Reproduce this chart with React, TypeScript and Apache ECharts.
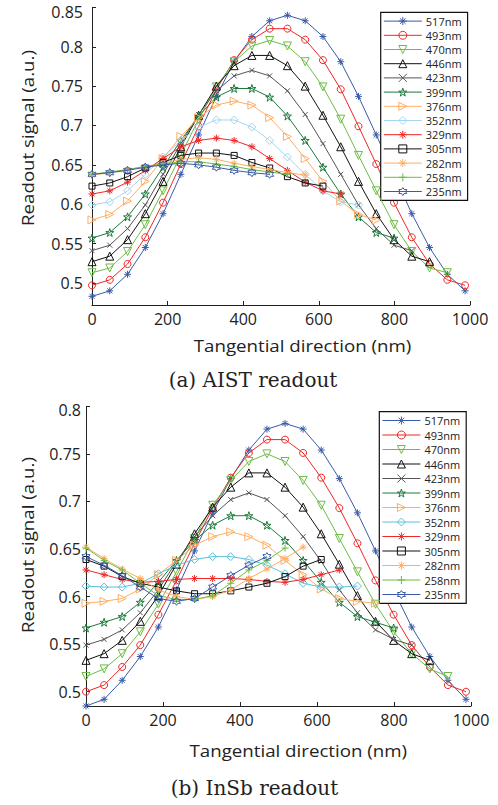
import React, { useEffect, useRef } from "react";
import * as echarts from "echarts";

// ---------- data ----------
const xPositions = [0, 47, 94, 141, 188, 235, 282, 329, 376, 423, 470, 517, 564, 611, 658, 705, 752, 799, 846, 893, 940, 987];
const wavelengths = ["517nm", "493nm", "470nm", "446nm", "423nm", "399nm", "376nm", "352nm", "329nm", "305nm", "282nm", "258nm", "235nm"];
const xTicks = [0, 200, 400, 600, 800, 1000];
const yTicksA = [0.5, 0.55, 0.6, 0.65, 0.7, 0.75, 0.8, 0.85];
const yTicksB = [0.5, 0.55, 0.6, 0.65, 0.7, 0.75, 0.8];

// (a) AIST readout
const aist517 = [0.483, 0.490, 0.511, 0.545, 0.588, 0.638, 0.688, 0.737, 0.781, 0.813, 0.833, 0.840, 0.833, 0.813, 0.781, 0.737, 0.688, 0.638, 0.588, 0.545, 0.511, 0.490];
const aist493 = [0.497, 0.504, 0.524, 0.558, 0.602, 0.651, 0.699, 0.746, 0.783, 0.809, 0.823, 0.823, 0.809, 0.783, 0.746, 0.699, 0.651, 0.602, 0.558, 0.524, 0.504, 0.497];
const aist470 = [0.513, 0.519, 0.540, 0.574, 0.617, 0.662, 0.708, 0.749, 0.781, 0.801, 0.808, 0.801, 0.781, 0.749, 0.708, 0.662, 0.617, 0.574, 0.540, 0.519, 0.513];
const aist446 = [0.527, 0.534, 0.555, 0.588, 0.629, 0.673, 0.713, 0.750, 0.776, 0.789, 0.789, 0.776, 0.750, 0.713, 0.673, 0.629, 0.588, 0.555, 0.534, 0.527];
const aist423 = [0.541, 0.548, 0.569, 0.599, 0.638, 0.677, 0.714, 0.744, 0.763, 0.770, 0.763, 0.744, 0.714, 0.677, 0.638, 0.599, 0.569, 0.548, 0.541];
const aist399 = [0.557, 0.564, 0.584, 0.613, 0.647, 0.681, 0.712, 0.736, 0.747, 0.747, 0.736, 0.712, 0.681, 0.647, 0.613, 0.584, 0.564, 0.557];
const aist376 = [0.580, 0.587, 0.604, 0.629, 0.658, 0.686, 0.710, 0.726, 0.731, 0.726, 0.710, 0.686, 0.658, 0.629, 0.604, 0.587, 0.580];
const aist352 = [0.599, 0.603, 0.617, 0.638, 0.660, 0.681, 0.698, 0.707, 0.707, 0.698, 0.681, 0.660, 0.638, 0.617, 0.603, 0.599];
const aist329 = [0.613, 0.617, 0.628, 0.643, 0.658, 0.673, 0.681, 0.684, 0.681, 0.673, 0.658, 0.643, 0.628, 0.617, 0.613];
const aist305 = [0.623, 0.627, 0.635, 0.646, 0.653, 0.662, 0.665, 0.665, 0.662, 0.653, 0.646, 0.635, 0.627, 0.623];
const aist282 = [0.637, 0.640, 0.644, 0.648, 0.652, 0.657, 0.659, 0.657, 0.652, 0.648, 0.644, 0.640, 0.637];
const aist258 = [0.638, 0.641, 0.644, 0.648, 0.651, 0.654, 0.654, 0.651, 0.648, 0.644, 0.641, 0.638];
const aist235 = [0.638, 0.640, 0.643, 0.647, 0.650, 0.652, 0.650, 0.647, 0.643, 0.640, 0.638];

// (b) InSb readout
const insb517 = [0.485, 0.492, 0.512, 0.537, 0.568, 0.607, 0.648, 0.688, 0.724, 0.754, 0.776, 0.782, 0.776, 0.754, 0.724, 0.688, 0.648, 0.607, 0.568, 0.537, 0.512, 0.492];
const insb493 = [0.500, 0.507, 0.526, 0.549, 0.581, 0.617, 0.656, 0.693, 0.725, 0.751, 0.765, 0.765, 0.751, 0.725, 0.693, 0.656, 0.617, 0.581, 0.549, 0.526, 0.507, 0.500];
const insb470 = [0.516, 0.524, 0.540, 0.563, 0.592, 0.626, 0.661, 0.696, 0.722, 0.742, 0.750, 0.742, 0.722, 0.696, 0.661, 0.626, 0.592, 0.563, 0.540, 0.524, 0.516];
const insb446 = [0.533, 0.540, 0.554, 0.574, 0.601, 0.634, 0.666, 0.694, 0.715, 0.730, 0.730, 0.715, 0.694, 0.666, 0.634, 0.601, 0.574, 0.554, 0.540, 0.533];
const insb423 = [0.549, 0.555, 0.565, 0.583, 0.607, 0.637, 0.663, 0.685, 0.702, 0.709, 0.702, 0.685, 0.663, 0.637, 0.607, 0.583, 0.565, 0.555, 0.549];
const insb399 = [0.567, 0.573, 0.579, 0.594, 0.615, 0.638, 0.659, 0.675, 0.685, 0.685, 0.675, 0.659, 0.638, 0.615, 0.594, 0.579, 0.573, 0.567];
const insb376 = [0.593, 0.595, 0.598, 0.608, 0.623, 0.638, 0.654, 0.663, 0.668, 0.663, 0.654, 0.638, 0.623, 0.608, 0.598, 0.595, 0.593];
const insb352 = [0.611, 0.610, 0.610, 0.614, 0.624, 0.633, 0.639, 0.642, 0.642, 0.639, 0.633, 0.624, 0.614, 0.610, 0.610, 0.611];
const insb329 = [0.628, 0.623, 0.618, 0.615, 0.616, 0.618, 0.619, 0.619, 0.619, 0.618, 0.616, 0.615, 0.618, 0.623, 0.628];
const insb305 = [0.639, 0.632, 0.621, 0.614, 0.610, 0.606, 0.603, 0.603, 0.606, 0.610, 0.614, 0.621, 0.632, 0.639];
const insb282 = [0.652, 0.640, 0.629, 0.619, 0.607, 0.600, 0.597, 0.600, 0.607, 0.619, 0.629, 0.640, 0.652];
const insb258 = [0.651, 0.638, 0.628, 0.614, 0.601, 0.597, 0.597, 0.601, 0.614, 0.628, 0.638, 0.651];
const insb235 = [0.642, 0.633, 0.622, 0.610, 0.598, 0.595, 0.598, 0.610, 0.622, 0.633, 0.642];

const aistSeries = [aist517, aist493, aist470, aist446, aist423, aist399, aist376, aist352, aist329, aist305, aist282, aist258, aist235];
const insbSeries = [insb517, insb493, insb470, insb446, insb423, insb399, insb376, insb352, insb329, insb305, insb282, insb258, insb235];

// ---------- styles ----------
const FONT = '"Open Sans", sans-serif';
const TXT = "#222";
const BLUE = "#3a5ba9";
const RED = "#ee2727";
const GREEN = "#6cbd44";
const ORANGE = "#ffad62";
const CLEAR = "rgba(255,255,255,0)";
const SYM = {
  asterisk: "path://M5,0L5,10M0,5L10,5M1.46,1.46L8.54,8.54M8.54,1.46L1.46,8.54",
  cross: "path://M0,0L10,10M10,0L0,10",
  plus: "path://M5,0L5,10M0,5L10,5",
  pentagram: "path://M50,0L61.23,34.55L97.55,34.55L68.16,55.9L79.39,90.45L50,69.1L20.61,90.45L31.84,55.9L2.45,34.55L38.77,34.55Z",
  hexagram: "path://M50,0L64.43,25L93.3,25L78.87,50L93.3,75L64.43,75L50,100L35.57,75L6.7,75L21.13,50L6.7,25L35.57,25Z",
};
type Sty = { color: string; symbol: string; size: number; rotate?: number };
const stylesFor = (lightBlue: string): Sty[] => [
  { color: BLUE, symbol: SYM.asterisk, size: 7 },
  { color: RED, symbol: "circle", size: 7 },
  { color: GREEN, symbol: "triangle", size: 8, rotate: 180 },
  { color: "#111", symbol: "triangle", size: 8 },
  { color: "#555", symbol: SYM.cross, size: 5 },
  { color: "#1c7a3c", symbol: SYM.pentagram, size: 8 },
  { color: ORANGE, symbol: "triangle", size: 8, rotate: -90 },
  { color: lightBlue, symbol: "diamond", size: 8 },
  { color: RED, symbol: SYM.asterisk, size: 7 },
  { color: "#111", symbol: "rect", size: 6 },
  { color: ORANGE, symbol: SYM.asterisk, size: 7 },
  { color: GREEN, symbol: SYM.plus, size: 7 },
  { color: BLUE, symbol: SYM.hexagram, size: 8 },
];
const stylesA = stylesFor("#a6d5f0");
const stylesB = stylesFor("#5cc0dc");

const fmt = (v: number) => String(parseFloat(Number(v).toFixed(2)));

function buildSeries(sets: number[][], styles: Sty[], idx: number, prefix: string) {
  return sets.map((vals, k) => ({
    type: "line",
    name: prefix + wavelengths[k],
    xAxisIndex: idx,
    yAxisIndex: idx,
    data: vals.map((v, i) => [xPositions[i], v]),
    symbol: styles[k].symbol,
    symbolSize: styles[k].size,
    symbolRotate: styles[k].rotate || 0,
    showAllSymbol: true,
    lineStyle: { color: styles[k].color, width: 1 },
    itemStyle: { color: "none", borderColor: styles[k].color, borderWidth: 1 },
    emphasis: { disabled: true },
    z: 2 + k,
  }));
}

function xAxis(idx: number) {
  return {
    type: "value",
    gridIndex: idx,
    min: 0,
    max: 1000,
    interval: 200,
    axisLine: { show: true, lineStyle: { color: TXT, width: 1 } },
    axisTick: { show: true, inside: true, length: 4, lineStyle: { color: TXT } },
    axisLabel: { color: TXT, fontSize: 16, fontFamily: FONT, margin: 6, customValues: xTicks, formatter: (v: number) => String(v) },
    splitLine: { show: false },
  };
}
function yAxis(idx: number, min: number, max: number, ticks: number[], margin: number, topPad: number) {
  return {
    type: "value",
    gridIndex: idx,
    min,
    max,
    axisLine: { show: true, lineStyle: { color: TXT, width: 1 } },
    axisTick: { show: true, inside: true, length: 4, lineStyle: { color: TXT }, customValues: ticks },
    axisLabel: {
      color: TXT,
      fontSize: 16,
      fontFamily: FONT,
      margin,
      customValues: ticks,
      showMinLabel: true,
      showMaxLabel: true,
      formatter: (v: number) => (Math.abs(v - max) < 1e-6 ? `{top|${fmt(v)}}` : fmt(v)),
      rich: { top: { color: TXT, fontSize: 16, fontFamily: FONT, padding: [topPad, 0, 0, 0] } },
    },
    splitLine: { show: false },
  };
}
function legend(left: number, top: number, gap: number, pad: number, prefix: string, styles: Sty[]) {
  return {
    orient: "vertical",
    left,
    top,
    data: wavelengths.map((w, k) => ({
      name: prefix + w,
      itemStyle: { color: CLEAR, borderColor: styles[k].color, borderWidth: 1 },
      lineStyle: { color: styles[k].color, width: 1 },
    })),
    formatter: (n: string) => n.replace(prefix, ""),
    itemWidth: 38,
    itemHeight: 10,
    itemGap: gap,
    padding: [pad, 6, pad, 2.6],
    borderColor: "#111",
    borderWidth: 1.2,
    backgroundColor: "#fff",
    selectedMode: false,
    textStyle: { color: TXT, fontSize: 11, fontFamily: FONT, padding: [0, 0, 0, -1] },
  };
}
const text = (t: string, x: number, y: number, size: number, family: string, rotate = 0, sx = 1) => ({
  type: "text",
  x,
  y,
  rotation: rotate,
  scaleX: sx,
  style: { text: t, fill: TXT, font: `${size}px ${family}`, align: "center", verticalAlign: "middle" },
});

const option = {
  animation: false,
  backgroundColor: "#fff",
  grid: [
    { left: 92, top: 7.4, width: 378, height: 297.6 },
    { left: 86, top: 406.3, width: 385, height: 299.7 },
  ],
  xAxis: [xAxis(0), xAxis(1)],
  yAxis: [yAxis(0, 0.472, 0.85, yTicksA, 9, 10), yAxis(1, 0.485, 0.8, yTicksB, 5, 8)],
  legend: [legend(380.7, 12.3, 3.2, 3.3, "", stylesA), legend(379.3, 411.7, 3.5, 3.3, "InSb ", stylesB)],
  series: [...buildSeries(aistSeries, stylesA, 0, ""), ...buildSeries(insbSeries, stylesB, 1, "InSb ")],
  graphic: [
    text("Readout signal (a.u.)", 27.5, 138, 17, FONT, Math.PI / 2, 1.1),
    text("Readout signal (a.u.)", 27.5, 545, 17, FONT, Math.PI / 2, 1.1),
    text("Tangential direction (nm)", 302.5, 345, 17, FONT, 0, 1.1),
    text("Tangential direction (nm)", 298.3, 750.7, 17, FONT, 0, 1.1),
    text("(a) AIST readout", 253, 380, 20, '"DejaVu Serif", serif'),
    text("(b) InSb readout", 254.5, 788, 20, '"DejaVu Serif", serif'),
  ],
};

export default function App() {
  const ref = useRef<HTMLDivElement>(null);
  useEffect(() => {
    if (!ref.current) return;
    const chart = echarts.init(ref.current, null, { renderer: "svg" });
    chart.setOption(option as any);
    return () => chart.dispose();
  }, []);
  return <div ref={ref} style={{ position: "fixed", left: 0, top: 0, width: 498, height: 805, background: "#fff" }} />;
}
